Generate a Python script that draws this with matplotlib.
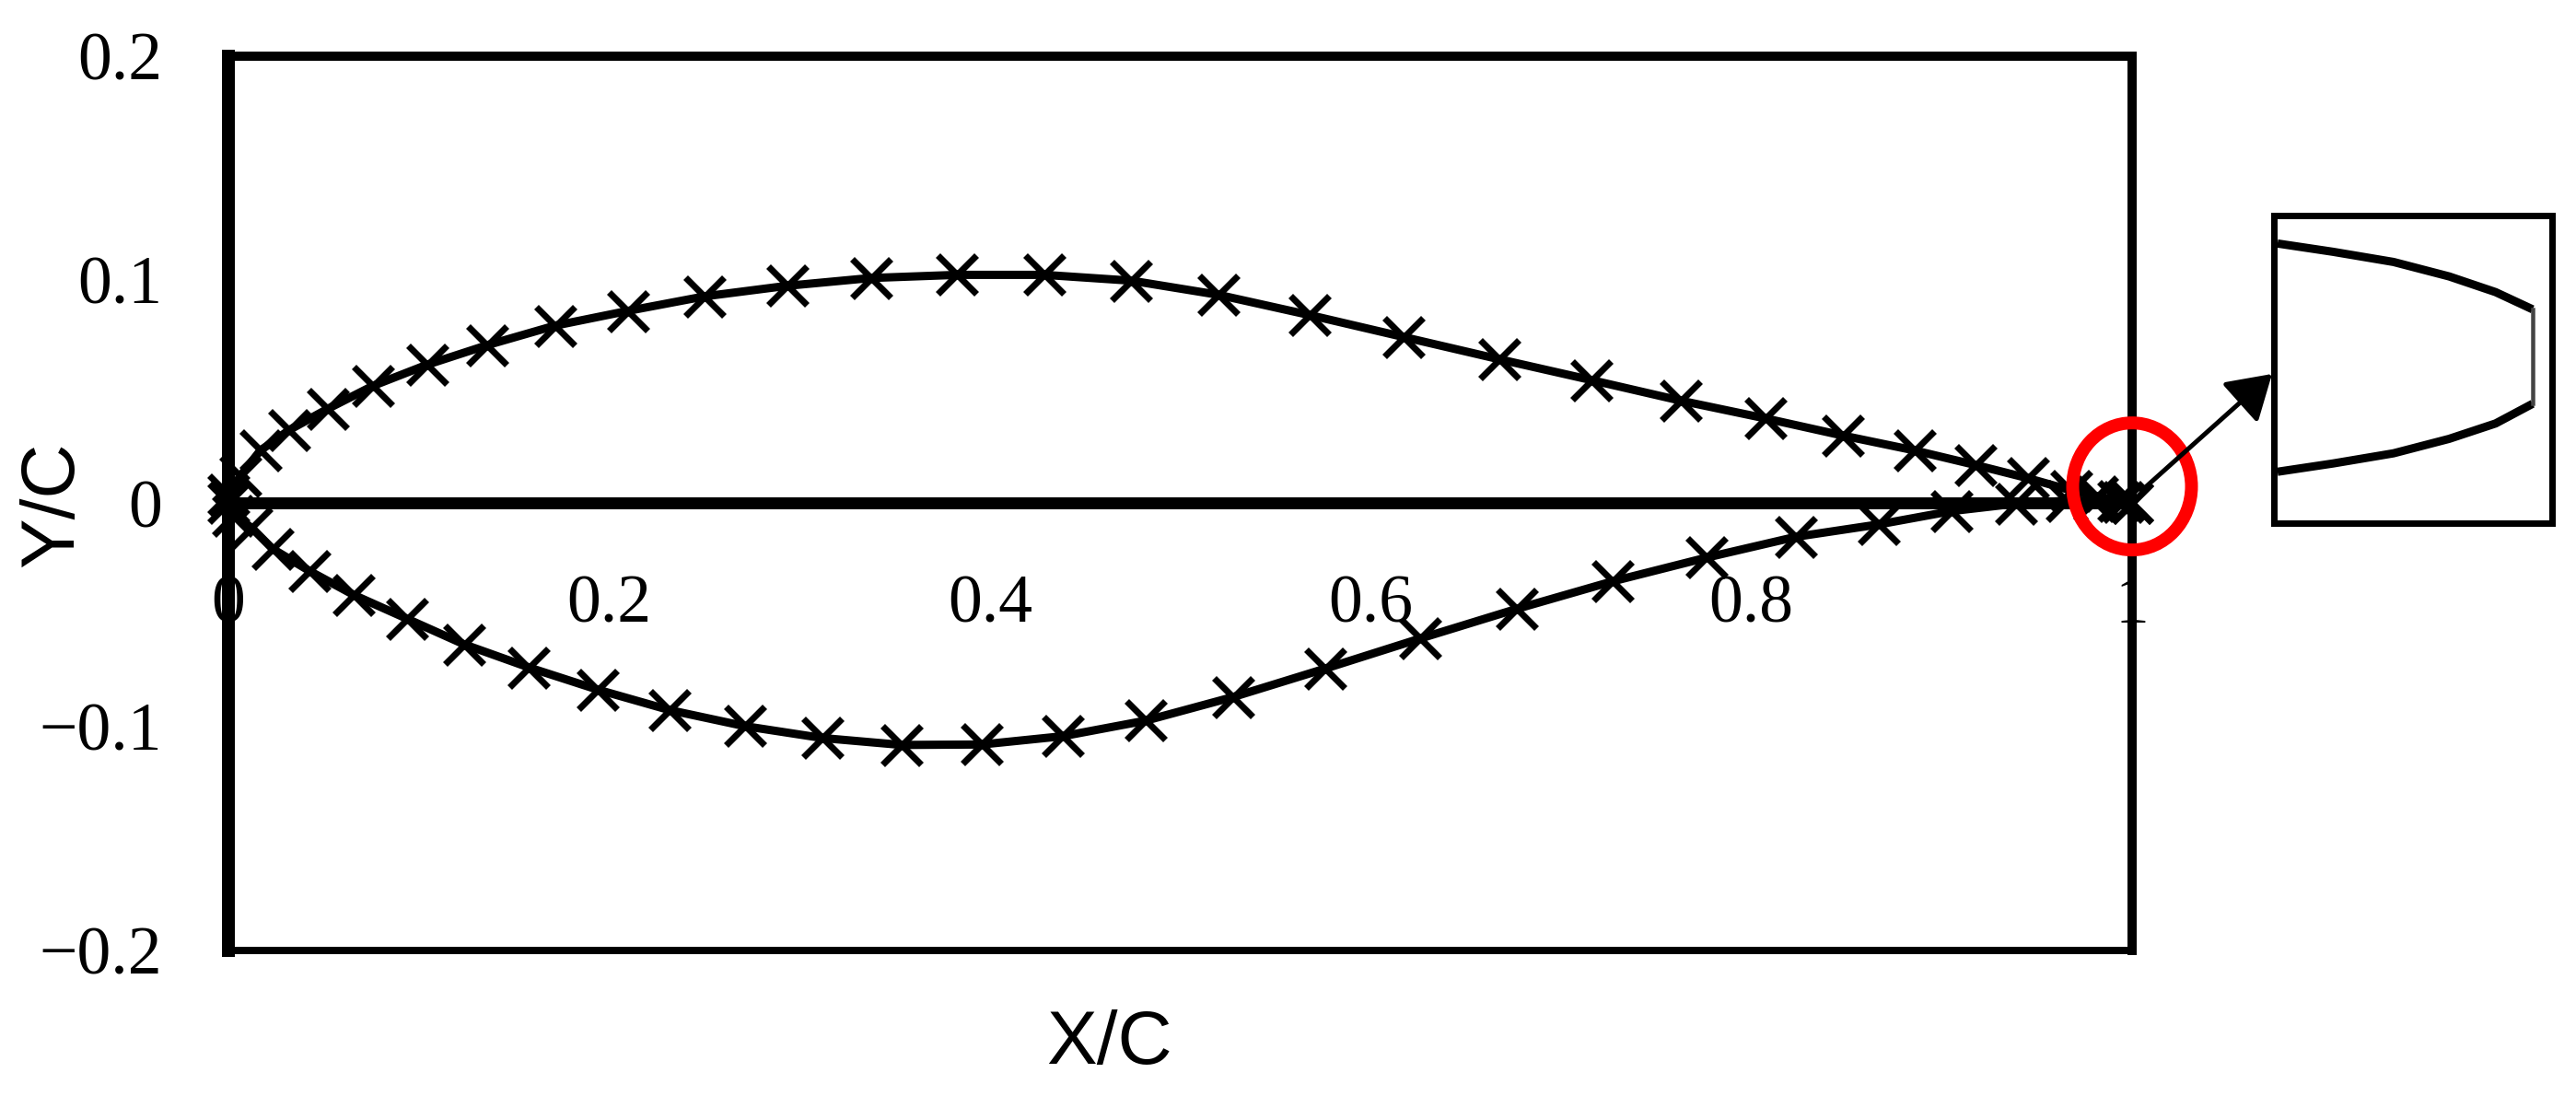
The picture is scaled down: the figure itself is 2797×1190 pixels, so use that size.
import matplotlib
matplotlib.use("Agg")
import matplotlib.pyplot as plt
from matplotlib.patches import Ellipse

# Upper surface
upper_x = [0.0, 0.0063, 0.0167, 0.0321, 0.0522, 0.0760, 0.1043, 0.1361, 0.1716, 0.2099, 0.2503,
           0.2935, 0.3376, 0.3829, 0.4286, 0.4743, 0.5199, 0.5681, 0.6174, 0.6674, 0.7162,
           0.7631, 0.8075, 0.8483, 0.8857, 0.9177, 0.9452, 0.9681, 0.9816, 0.9927, 1.0]
upper_y = [0.0039, 0.0122, 0.0235, 0.0328, 0.0422, 0.0525, 0.0619, 0.0707, 0.0794, 0.0860, 0.0925,
           0.0972, 0.1007, 0.1021, 0.1021, 0.0995, 0.0932, 0.0841, 0.0743, 0.0644, 0.0550,
           0.0458, 0.0379, 0.0302, 0.0236, 0.0171, 0.0112, 0.0057, 0.0030, 0.0011, 0.0]
# Lower surface
lower_x = [0.0, 0.0024, 0.0121, 0.0232, 0.0426, 0.0658, 0.0939, 0.1238, 0.1577, 0.1941, 0.2317,
           0.2713, 0.3120, 0.3537, 0.3956, 0.4382, 0.4820, 0.5280, 0.5764, 0.6261, 0.6770,
           0.7273, 0.7766, 0.8236, 0.8668, 0.9054, 0.9390, 0.9656, 0.9804, 0.9952, 1.0]
lower_y = [0.0, -0.0056, -0.0109, -0.0204, -0.0303, -0.0410, -0.0517, -0.0631, -0.0734, -0.0834, -0.0925,
           -0.0997, -0.1050, -0.1081, -0.1079, -0.1042, -0.0972, -0.0866, -0.0739, -0.0605, -0.0472,
           -0.0349, -0.0243, -0.0150, -0.0095, -0.0035, -0.0002, 0.0011, 0.0008, 0.0005, 0.0]
chord_x = [0, 1]
chord_y = [0, 0]

x_ticks = [0, 0.2, 0.4, 0.6, 0.8, 1]
x_tick_labels = ["0", "0.2", "0.4", "0.6", "0.8", "1"]
y_ticks = [-0.2, -0.1, 0, 0.1, 0.2]
y_tick_labels = ["\u22120.2", "\u22120.1", "0", "0.1", "0.2"]

# Trailing-edge detail (inset, normalised scale)
inset_x = [0.013, 0.213, 0.43, 0.63, 0.797, 0.93]
inset_upper = [0.909, 0.882, 0.849, 0.802, 0.751, 0.695]
inset_lower = [0.167, 0.194, 0.227, 0.274, 0.324, 0.388]

W, H = 2797, 1190
fig = plt.figure(figsize=(W / 100, H / 100), dpi=100, facecolor="white")
px = 0.72  # points per pixel

L, R, T, B = 248, 2315, 60.7, 1032
ax = fig.add_axes([L / W, (H - B) / H, (R - L) / W, (B - T) / H])
ax.set_xlim(0, 1)
ax.set_ylim(-0.2, 0.2)

serif = "Liberation Serif"
ax.set_xticks(x_ticks)
ax.set_xticklabels(x_tick_labels, fontfamily=serif, fontsize=53, color="black")
ax.set_yticks(y_ticks)
ax.set_yticklabels(y_tick_labels, fontfamily=serif, fontsize=53, color="black")
ax.tick_params(axis="x", length=0, pad=-408 * px)
ax.tick_params(axis="y", length=0, pad=72 * px)

for name, w in [("left", 14), ("right", 10), ("top", 10), ("bottom", 8)]:
    ax.spines[name].set_linewidth(w * px)
    ax.spines[name].set_color("black")

ax.plot(chord_x, chord_y, color="black", lw=13 * px, solid_capstyle="butt", clip_on=False, zorder=3)
for xs, ys in [(upper_x, upper_y), (lower_x, lower_y)]:
    ax.plot(xs, ys, color="black", lw=9 * px, marker="x", ms=43 * px, mew=7 * px,
            clip_on=False, zorder=3)

ax.set_xlabel("X/C", fontfamily="Liberation Sans", fontsize=59)
ax.xaxis.set_label_coords((1204 - L) / (R - L), (B - 1134) / (B - T))
ax.xaxis.label.set_va("center")
ax.set_ylabel("Y/C", fontfamily="Liberation Sans", fontsize=59)
ax.yaxis.set_label_coords((58 - L) / (R - L), (B - 548) / (B - T))
ax.yaxis.label.set_va("center")

# Red circle around the trailing edge
ax.add_patch(Ellipse((1.0, 0.0075), 0.0624, 0.0568, fill=False, ec="#ff0000", lw=14 * px,
                     clip_on=False, zorder=10))

# Inset
iL, iR, iT, iB = 2469, 2771, 234, 568
inset = fig.add_axes([iL / W, (H - iB) / H, (iR - iL) / W, (iB - iT) / H], zorder=5)
inset.set_xlim(0, 1)
inset.set_ylim(0, 1)
inset.set_xticks([])
inset.set_yticks([])
for s in inset.spines.values():
    s.set_linewidth(7 * px)
    s.set_color("black")
inset.plot(inset_x, inset_upper, color="black", lw=9 * px, solid_capstyle="butt")
inset.plot(inset_x, inset_lower, color="black", lw=9 * px, solid_capstyle="butt")
inset.plot([inset_x[-1], inset_x[-1]], [inset_lower[-1], inset_upper[-1]], color="#444444", lw=4.5 * px)

# Arrow from the red circle to the inset
arrow = ax.annotate("", xy=(2467, H - 406), xytext=(2325, H - 533),
                    xycoords="figure pixels", textcoords="figure pixels",
                    arrowprops=dict(arrowstyle="-|>,head_length=29,head_width=18", mutation_scale=1,
                                    color="black", lw=5 * px, shrinkA=0, shrinkB=0),
                    annotation_clip=False, zorder=11)

fig.savefig("out.png", dpi=100, facecolor="white")
